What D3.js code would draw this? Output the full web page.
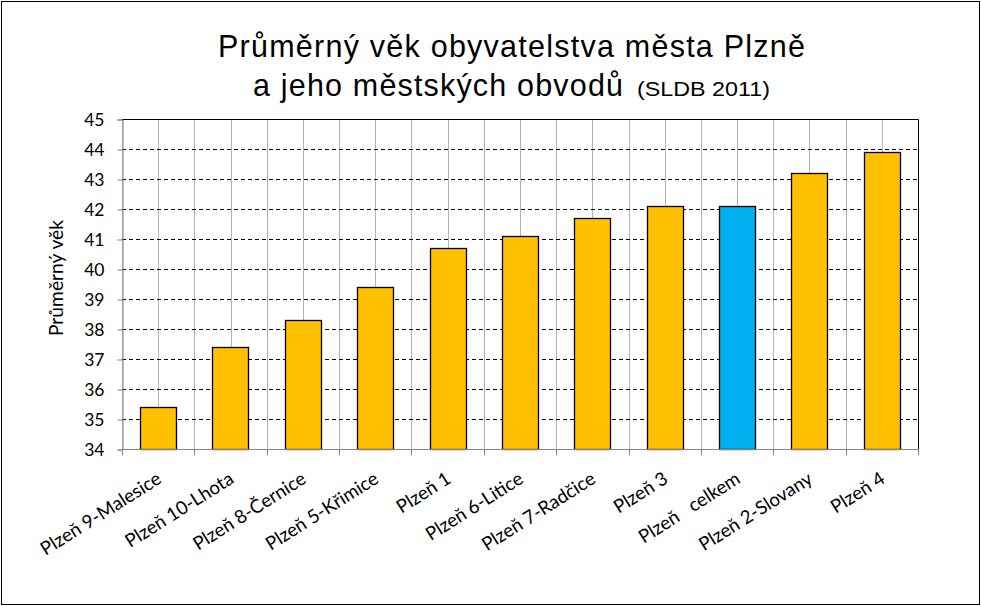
<!DOCTYPE html>
<html><head><meta charset="utf-8">
<script src="https://cdn.jsdelivr.net/npm/d3@7"></script>
<style>body{margin:0;background:#fff}svg{display:block}text{white-space:pre}</style>
</head><body>
<svg id="c" width="981" height="606"></svg>
<script>
const categories = ["Plzeň 9-Malesice","Plzeň 10-Lhota","Plzeň 8-Černice","Plzeň 5-Křimice","Plzeň 1","Plzeň 6-Litice","Plzeň 7-Radčice","Plzeň 3","Plzeň   celkem","Plzeň 2-Slovany","Plzeň 4"];
const values = [35.4, 37.4, 38.3, 39.4, 40.7, 41.1, 41.7, 42.1, 42.1, 43.2, 43.9];
const highlight = ["Plzeň   celkem"];
const yTicks = [34,35,36,37,38,39,40,41,42,43,44,45];

const svg = d3.select("#c");
const W = 981, H = 606;
const m = {left:122, right:918, top:119, bottom:449};
const lf = "Lato, 'Open Sans', sans-serif";

svg.append("rect").attr("x",1.5).attr("y",1.5).attr("width",W-3).attr("height",H-3)
  .attr("fill","#fff").attr("stroke","#000").attr("stroke-width",1);

const x = d3.scaleBand().domain(categories).range([m.left, m.right]).paddingInner(0).paddingOuter(0);
const y = d3.scaleLinear().domain([34,45]).range([m.bottom, m.top]);
const bw = x.bandwidth();

// vertical gridlines (boundaries and centers)
const vlines = [];
categories.forEach(c => { vlines.push(x(c)); vlines.push(x(c)+bw/2); });
vlines.push(m.right);
svg.append("g").selectAll("line").data(vlines).join("line")
  .attr("x1",d=>Math.round(d)+0.5).attr("x2",d=>Math.round(d)+0.5)
  .attr("y1",m.top).attr("y2",m.bottom).attr("stroke","#b3b3b3").attr("stroke-width",1);

// horizontal dashed gridlines
svg.append("g").selectAll("line").data(yTicks.filter(t=>t>34 && t<45)).join("line")
  .attr("x1",m.left).attr("x2",m.right)
  .attr("y1",d=>Math.round(y(d))+0.5).attr("y2",d=>Math.round(y(d))+0.5)
  .attr("stroke","#000").attr("stroke-width",1).attr("stroke-dasharray","4,3");

// plot border top/right
svg.append("path").attr("d",`M${m.left},${m.top+0.5}H${m.right+0.5}V${m.bottom}`)
  .attr("fill","none").attr("stroke","#000").attr("stroke-width",1);

// bars
svg.append("g").selectAll("rect").data(categories).join("rect")
  .attr("x",(d)=>Math.round(x(d)+bw*0.25)+0.5)
  .attr("width",Math.round(bw*0.5))
  .attr("y",(d,i)=>Math.round(y(values[i]))+0.5)
  .attr("height",(d,i)=>Math.round(y(34))-Math.round(y(values[i])))
  .attr("fill",d=>highlight.includes(d)?"#00B0F0":"#FFC000")
  .attr("stroke","#000").attr("stroke-width",1.3);

// y axis
const yAxis = svg.append("g").attr("transform",`translate(${m.left+0.5},0.5)`)
  .call(d3.axisLeft(y).tickValues(yTicks).tickSize(5).tickPadding(13).tickFormat(d3.format("d")));
yAxis.select(".domain").attr("stroke","#868686");
yAxis.selectAll(".tick line").attr("stroke","#868686");
yAxis.selectAll(".tick text").attr("font-family",lf).attr("font-size",17.5).attr("fill","#000");

// x axis
const xb = svg.append("g").attr("transform",`translate(0,${Math.round(m.bottom)+0.5})`);
xb.append("line").attr("x1",m.left).attr("x2",m.right+1).attr("stroke","#868686");
const bounds = categories.map(c=>x(c)).concat([m.right]);
xb.selectAll("line.t").data(bounds).join("line").attr("class","t")
  .attr("x1",d=>Math.round(d)+0.5).attr("x2",d=>Math.round(d)+0.5).attr("y1",0).attr("y2",6)
  .attr("stroke","#868686");
xb.selectAll("text").data(categories).join("text")
  .attr("transform",d=>`translate(${x(d)+bw/2+1},${27}) rotate(-32.3)`)
  .attr("text-anchor","end").attr("dy","0.35em")
  .attr("font-family",lf).attr("font-size",18.7)
  .text(d=>d);

// y label
svg.append("text").attr("transform","translate(63,278) rotate(-90)")
  .attr("text-anchor","middle").attr("font-family",lf)
  .attr("font-size",20).attr("textLength",116).attr("lengthAdjust","spacingAndGlyphs").text("Průměrný věk");

// title
const tf = "'Liberation Sans', Arial, sans-serif";
svg.append("text").attr("x",218).attr("y",57)
  .attr("font-family",tf).attr("font-size",30.5).attr("textLength",587).attr("lengthAdjust","spacing")
  .text("Průměrný věk obyvatelstva města Plzně");
svg.append("text").attr("x",253).attr("y",96)
  .attr("font-family",tf).attr("font-size",30.5).attr("textLength",370).attr("lengthAdjust","spacing")
  .text("a jeho městských obvodů");
svg.append("text").attr("x",637).attr("y",96)
  .attr("font-family",tf).attr("font-size",21).attr("textLength",133).attr("lengthAdjust","spacingAndGlyphs")
  .text("(SLDB 2011)");
</script>
</body></html>
